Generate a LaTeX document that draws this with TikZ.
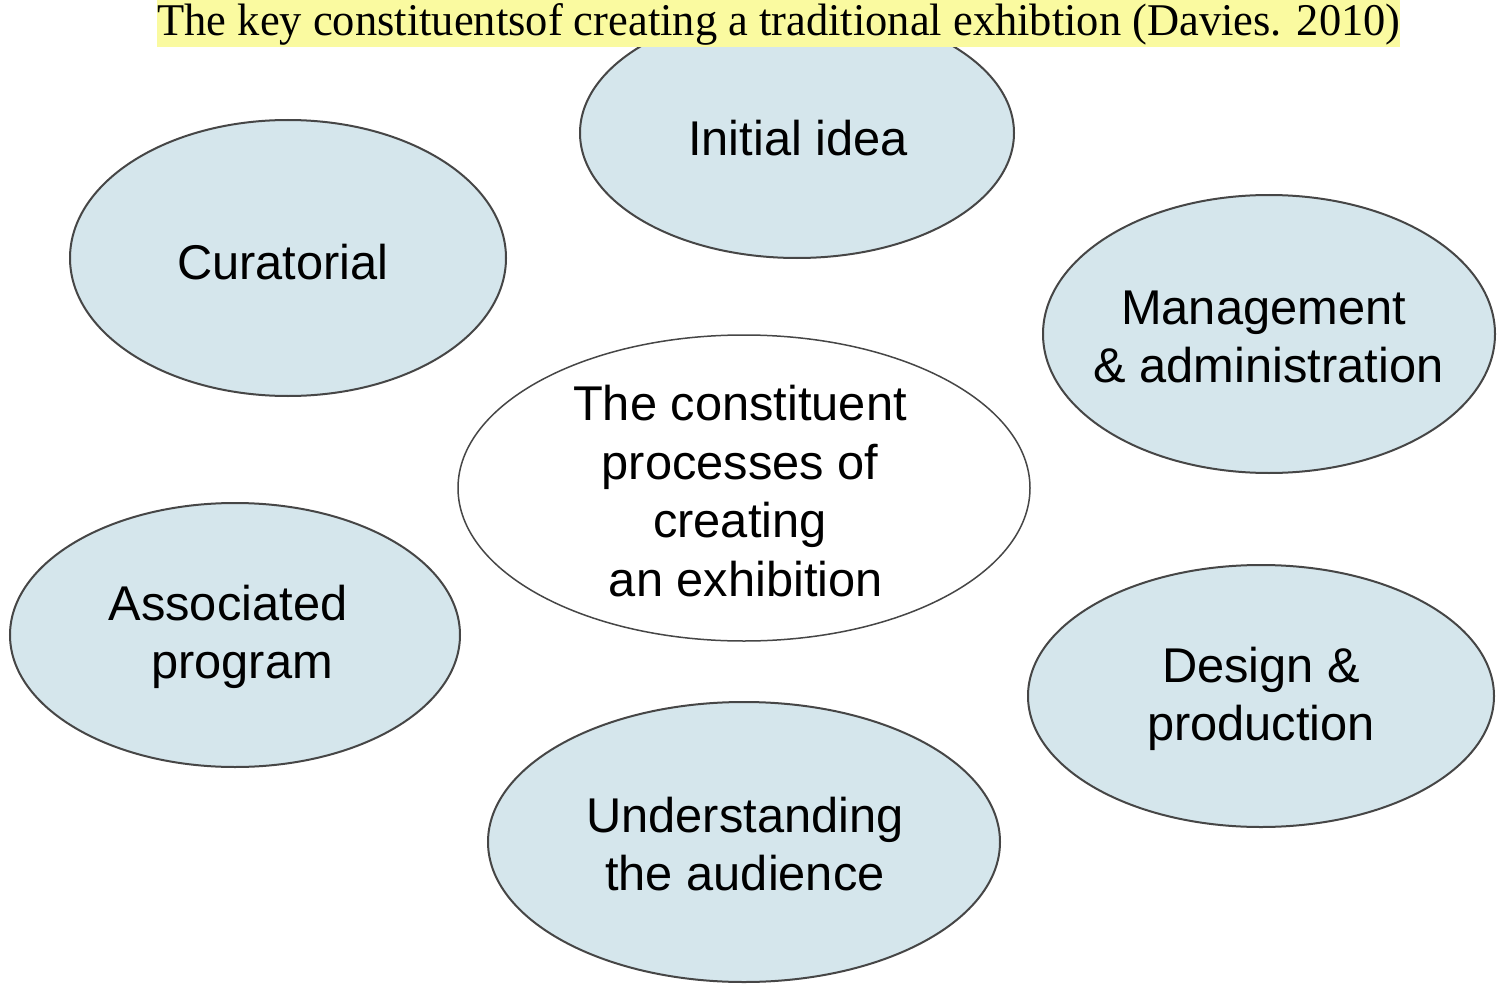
\documentclass[tikz,border=0pt]{standalone}
\usepackage{fontspec}
\setmainfont{Liberation Serif}
\newfontfamily\arialf{Liberation Sans}
\usetikzlibrary{shapes.geometric}
\definecolor{bubble}{RGB}{213,230,236}
\definecolor{rim}{RGB}{70,70,70}
\definecolor{hilite}{RGB}{250,250,160}
\begin{document}
\begin{tikzpicture}[x=0.5pt,y=-0.5pt,
  bubblebox/.style={ellipse, draw=rim, line width=1pt, fill=bubble, inner sep=0pt},
  hubbox/.style={bubblebox, fill=white, line width=0.75pt},
  wordbox/.style={inner sep=0pt, align=center, font=\arialf\fontsize{24.4}{29.3}\selectfont},
  titlebox/.style={inner sep=0pt, anchor=base, xscale=0.98, font=\fontsize{22.7}{26}\selectfont}]
\useasboundingbox (0,0) rectangle (1500,990);
\fill[white] (0,0) rectangle (1500,990);
\node[bubblebox, minimum width=217pt, minimum height=125pt] (idea) at (797,133) {};
\node[bubblebox, minimum width=218pt, minimum height=138pt] (cur) at (288,258) {};
\node[bubblebox, minimum width=226pt, minimum height=139pt] (man) at (1269,334) {};
\node[hubbox, minimum width=286pt, minimum height=153pt] (hub) at (744,488) {};
\node[bubblebox, minimum width=225pt, minimum height=132pt] (assoc) at (235,635) {};
\node[bubblebox, minimum width=233pt, minimum height=131pt] (des) at (1261,696) {};
\node[bubblebox, minimum width=256pt, minimum height=140pt] (aud) at (744,842) {};
\node[wordbox] (idea-t) at (798,138) {Initial idea};
\node[wordbox] (cur-t) at (283,262) {Curatorial};
\node[wordbox] (man-t) at (1266,337) {Management\hspace*{2.5pt}\\\hspace*{2.5pt}\& administration};
\node[wordbox] (hub-t) at (740,491) {The constituent\\processes of\\creating\\\hspace*{6pt}an exhibition};
\node[wordbox] (assoc-t) at (235,637) {Associated\hspace*{7pt}\\\hspace*{7pt}program};
\node[wordbox] (des-t) at (1261,699) {Design \&\\production};
\node[wordbox] (aud-t) at (745,844) {Understanding\\the audience};
\fill[hilite] (157,0) rectangle (1400,47);
\node[titlebox] (title) at (779,36) {The key constituentsof creating a traditional exhibtion (Davies. 2010)};
\end{tikzpicture}
\end{document}
